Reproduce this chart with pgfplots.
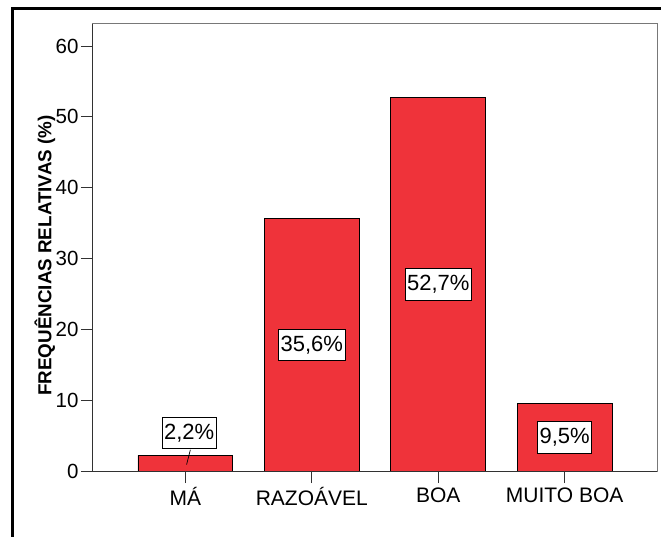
\documentclass[border=0pt]{standalone}
\usepackage{pgfplots}
\pgfplotsset{compat=1.18}
\usepackage{fontspec}
\setmainfont{Liberation Sans}
\definecolor{barred}{RGB}{239,51,58}
\definecolor{frame}{RGB}{120,120,120}
\definecolor{spine}{RGB}{50,50,50}
\begin{document}
\begin{tikzpicture}
\useasboundingbox (0pt,0pt) rectangle (661pt,-537pt);
\fill[white] (0pt,0pt) rectangle (661pt,-537pt);
\draw[line width=3pt,black] (12pt,-537pt) -- (12pt,-8.5pt) -- (661pt,-8.5pt);
\begin{axis}[
  at={(93pt,-471pt)}, anchor=south west,
  scale only axis, width=564pt, height=447pt,
  xmin=-0.73, xmax=3.73, ymin=0, ymax=63.1,
  ybar, bar width=0.75,
  axis line style={draw=none},
  xtick={0,1,2,3},
  xticklabels={MÁ,RAZOÁVEL,BOA,MUITO BOA},
  ytick={0,10,20,30,40,50,60},
  tick align=outside, xtick pos=bottom, ytick pos=left,
  major tick length=12pt,
  tick style={spine, line width=0.8pt},
  /pgf/number format/assume math mode=true,
  yticklabel style={font=\fontsize{20.5}{24}\selectfont, xshift=1pt},
  xticklabel style={font=\fontsize{21}{25}\selectfont, yshift=-1pt},
  clip=false,
]
\addplot[fill=barred, draw=black, line width=0.7pt] coordinates {(0,2.2) (1,35.6) (2,52.7) (3,9.5)};
\draw[frame, line width=1pt] (rel axis cs:0,0) rectangle (rel axis cs:1,1);
\draw[spine, line width=1pt] (rel axis cs:0,1) -- (rel axis cs:0,0) -- (rel axis cs:1,0);
\draw[black, line width=0.7pt] (axis cs:0.04,3.0) -- (axis cs:0.01,0.9);
\tikzset{lab/.style={draw=black, fill=white, line width=0.7pt, inner xsep=2pt, inner ysep=6.5pt, font=\fontsize{22}{26}\selectfont}}
\node[lab] at (axis cs:0.03,5.4) {2,2\%};
\node[lab] at (axis cs:1,17.8) {35,6\%};
\node[lab] at (axis cs:2,26.35) {52,7\%};
\node[lab] at (axis cs:3,4.75) {9,5\%};
\node[xshift=-48pt, yshift=-8pt, rotate=90, font=\bfseries\fontsize{18.8}{22}\selectfont] at (rel axis cs:0,0.5) {FREQUÊNCIAS RELATIVAS (\%)};
\end{axis}
\end{tikzpicture}
\end{document}
